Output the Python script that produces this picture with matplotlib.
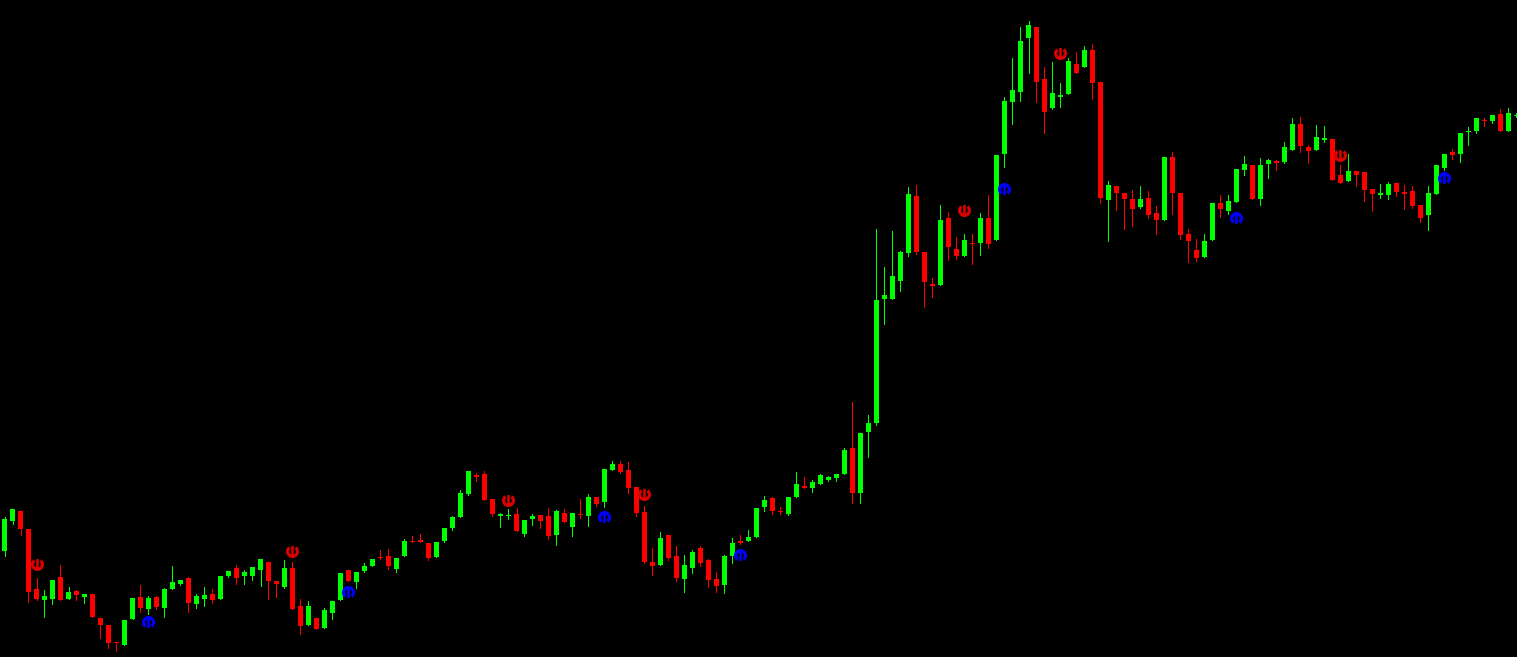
#candles with fractal arrows

import numpy as np
import matplotlib
matplotlib.use('Agg')
import matplotlib.pyplot as plt
from matplotlib.path import Path

# ohlc, price scale runs downward like the terminal's screen units
opens = [551,521,511,529,589,600,599,577,599,591,
         597,594,618,625,642,645,619,597,609,597,
         608,589,584,578,604,599,594,599,576,568,
         576,576,570,562,581,587,568,606,625,618,
         628,613,600,570,582,571,566,557,556,569,
         556,541,540,543,557,541,528,517,494,475,
         474,499,516,516,514,534,519,515,516,535,
         513,527,514,516,497,502,470,464,470,487,
         512,562,565,535,556,579,568,548,560,579,
         585,556,541,541,537,507,498,511,514,497,
         486,488,484,480,478,474,448,493,432,423,
         299,299,281,253,196,252,284,285,218,249,
         256,243,243,218,240,154,102,92,38,27,
         79,108,97,94,64,67,50,82,200,186,
         193,199,207,198,213,220,157,193,234,250,
         257,240,203,211,202,170,165,199,164,161,
         162,150,124,147,150,140,139,175,181,171,
         172,189,195,195,183,192,191,205,215,194,
         168,152,154,132,131,120,121,114,131,116]
highs = [517,509,511,529,578,590,580,565,587,590,
         594,594,618,625,642,620,598,585,596,596,
         588,566,580,577,594,587,589,576,571,565,
         570,567,559,562,581,560,562,599,601,618,
         608,601,573,570,572,563,559,550,549,558,
         539,536,534,543,542,528,516,490,471,473,
         471,499,513,509,508,520,514,515,508,510,
         509,513,499,494,497,469,461,461,462,487,
         506,548,532,535,546,555,550,546,559,572,
         555,538,535,530,508,496,497,507,497,472,
         477,480,474,476,474,448,402,433,415,229,
         267,231,251,187,185,252,278,205,212,237,
         234,234,213,195,155,97,58,27,21,27,
         67,62,83,58,52,46,44,82,181,186,
         193,190,186,191,206,157,152,193,229,239,
         234,203,195,195,169,156,165,158,159,160,
         142,118,117,145,125,126,139,165,154,171,
         172,189,184,182,183,185,186,205,186,165,
         154,149,133,127,118,118,115,109,108,113]
lows = [556,524,535,602,600,617,604,600,599,600,
        603,617,638,648,651,645,619,612,614,609,
        617,589,585,612,608,606,603,599,577,584,
        584,580,586,599,597,588,609,634,625,629,
        628,619,600,581,588,572,566,559,569,572,
        556,542,542,560,557,542,530,517,495,481,
        500,516,527,519,531,536,525,528,539,545,
        522,536,518,526,506,507,470,473,493,516,
        563,575,565,560,581,592,573,566,587,592,
        593,563,544,541,537,511,514,514,515,497,
        488,492,484,481,481,474,503,503,457,425,
        324,299,291,256,254,307,297,285,260,259,
        256,264,255,248,240,167,124,101,73,102,
        133,109,107,94,73,67,99,203,241,210,
        229,226,208,218,234,220,214,239,262,261,
        257,240,217,214,202,175,199,205,178,170,
        163,150,152,163,150,142,180,183,181,186,
        201,211,198,199,196,209,208,222,230,194,
        170,159,162,145,133,126,123,131,131,117]
closes = [519,509,529,592,599,596,580,600,592,595,
          594,617,625,643,643,620,598,608,598,607,
          589,582,580,603,596,595,600,576,571,578,
          572,567,559,581,584,568,609,626,606,629,
          610,601,573,581,572,566,559,558,566,558,
          541,542,542,558,542,528,517,493,471,477,
          500,514,514,515,531,520,516,521,536,511,
          522,513,515,497,504,469,464,472,488,513,
          562,566,538,558,578,565,552,563,580,586,
          556,543,543,537,508,500,511,512,497,484,
          488,482,475,477,474,450,493,433,423,300,
          295,276,252,194,252,282,286,220,247,256,
          240,244,218,244,155,101,90,41,25,82,
          112,93,95,61,73,50,83,198,185,193,
          199,209,199,215,220,157,193,235,241,258,
          241,203,209,201,169,164,199,165,160,163,
          147,124,146,151,137,138,180,183,171,175,
          190,194,193,184,192,194,206,218,193,165,
          154,155,133,131,118,121,115,131,113,115]

# fractal signals: bar number and level
sell_bars = [4, 36, 63, 80, 120, 132, 167]
sell_levels = [564, 551, 500, 494, 210, 53, 155]
buy_bars = [18, 43, 75, 92, 125, 154, 180]
buy_levels = [622, 592, 517, 555, 189, 218, 178]


def arrow_marker(direction):
    # open ring with an arrow inside, direction 1 = up (gap at the bottom)
    t = np.radians(np.linspace(270 + 38, 270 + 322, 40))
    outer = np.c_[np.cos(t), np.sin(t)]
    inner = np.c_[np.cos(t[::-1]), np.sin(t[::-1])] * 0.5
    ring = np.vstack([outer, inner, outer[:1]])
    arrow = np.array([[-0.2, -0.85], [0.2, -0.85], [0.2, 0.7], [-0.2, 0.7], [-0.2, -0.85]])
    # turning by 180 degrees keeps the winding, so overlaps stay filled
    return Path.make_compound_path(Path(ring * direction, closed=True),
                                   Path(arrow * direction, closed=True))


fig = plt.figure(figsize=(15.17, 6.57), dpi=100, facecolor='black')
ax = fig.add_axes([0, 0, 1, 1], facecolor='black')

opens = np.array(opens)
closes = np.array(closes)
bars = np.arange(len(opens))
up = closes <= opens
colors = np.where(up, '#00ff00', '#ff0000')

ax.vlines(bars, highs, lows, colors=colors, linewidth=0.72, antialiased=False)
ax.bar(bars, np.abs(opens - closes), bottom=np.minimum(opens, closes), width=0.625,
       color=colors, linewidth=0, antialiased=False)

ax.plot(sell_bars, sell_levels, ls='', marker=arrow_marker(-1), markersize=9.4,
        markerfacecolor='#d80000', markeredgewidth=0, zorder=5)
ax.plot(buy_bars, buy_levels, ls='', marker=arrow_marker(1), markersize=9.4,
        markerfacecolor='#0000ff', markeredgewidth=0, zorder=5)

ax.set_xlim(-4.5 / 8, (1517 - 4.5) / 8)
ax.set_ylim(657, 0)
ax.axis('off')

fig.savefig('out.png', dpi=100, facecolor='black')
